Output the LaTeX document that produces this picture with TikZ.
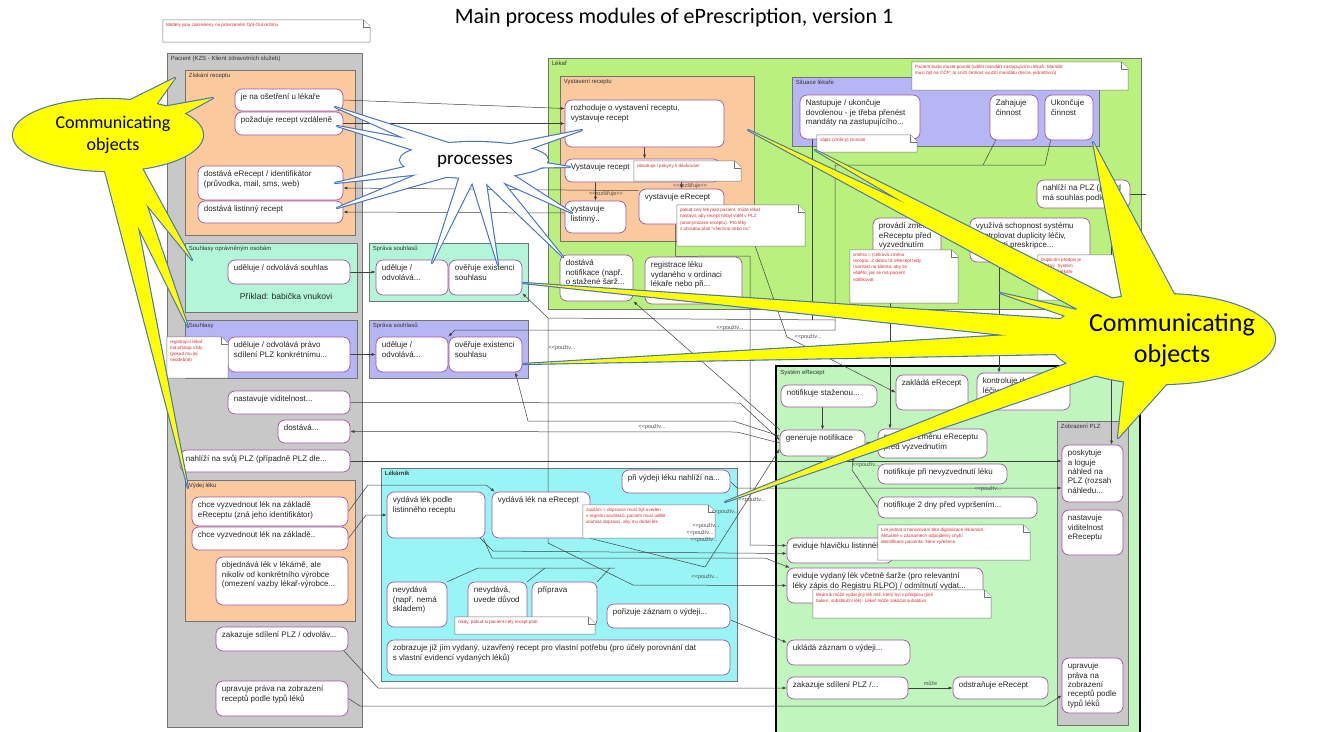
\documentclass[tikz,border=0pt]{standalone}
\usepackage{fontspec}
\setmainfont{Liberation Sans}
\newfontfamily\calfont{Carlito}
\usetikzlibrary{calc,arrows.meta}

\definecolor{pgray}{RGB}{200,200,200}
\definecolor{porange}{RGB}{250,201,157}
\definecolor{pmint}{RGB}{178,245,216}
\definecolor{ppurple}{RGB}{182,182,245}
\definecolor{plime}{RGB}{186,240,126}
\definecolor{pgreen}{RGB}{192,245,190}
\definecolor{pcyan}{RGB}{153,245,245}
\definecolor{bxline}{RGB}{160,85,160}
\definecolor{ntred}{RGB}{215,45,45}
\definecolor{callblue}{RGB}{68,114,196}
\definecolor{callyel}{RGB}{255,255,0}

\pgfdeclarelayer{panels}
\pgfdeclarelayer{lines}
\pgfsetlayers{panels,lines,main}

% panel: name, x1, y1, x2, y2, fill, label
\newcommand\panelnode[7]{%
  \begin{pgfonlayer}{panels}
  \node[panel,fill=#6,minimum width={(#4-#2)*1pt},minimum height={(#5-#3)*1pt}] (#1) at ({(#2+#4)/2},{(#3+#5)/2}) {};
  \node[ptxt,anchor=north west] at ([xshift=4pt,yshift=-3pt]#1.north west) {#7};
  \end{pgfonlayer}}
% rounded activity box: name, x1, y1, x2, y2, text
\newcommand\boxnode[6]{%
  \node[ubox,minimum width={(#4-#2)*1pt},minimum height={(#5-#3)*1pt}] (#1) at ({(#2+#4)/2},{(#3+#5)/2}) {};
  \node[btxt,anchor=north west] at ([xshift=6pt,yshift=-5pt]#1.north west) {#6};}
% note with folded corner: name, x1, y1, x2, y2, text
\newcommand\notenode[6]{%
  \node[inner sep=0pt,minimum width={(#4-#2)*1pt},minimum height={(#5-#3)*1pt}] (#1) at ({(#2+#4)/2},{(#3+#5)/2}) {};
  \filldraw[note] (#1.north west) -- ([xshift=-7pt]#1.north east) -- ([yshift=-7pt]#1.north east) -- (#1.south east) -- (#1.south west) -- cycle;
  \draw[note] ([xshift=-7pt]#1.north east) |- ([yshift=-7pt]#1.north east);
  \node[ntxt,anchor=north west] at ([xshift=3pt,yshift=-3pt]#1.north west) {#6};}

\begin{document}
\begin{tikzpicture}[x=1pt,y=-1pt,
  panel/.style={draw=black!55,line width=0.6pt,inner sep=0pt},
  ptxt/.style={font=\fontsize{6}{7}\selectfont,text=black!80,inner sep=0pt},
  ubox/.style={draw=bxline,fill=white,rounded corners=7pt,line width=0.7pt,inner sep=0pt},
  btxt/.style={font=\fontsize{8}{9.4}\selectfont,text=black!85,align=left,inner sep=0pt},
  note/.style={draw=black!55,fill=white,line width=0.5pt},
  ntxt/.style={font=\fontsize{4.6}{6.2}\selectfont,text=ntred,align=left,inner sep=0pt},
  conn/.style={draw=black!75,line width=0.5pt,-{Latex[length=4pt,width=3pt]}},
  cl/.style={draw=black!75,line width=0.5pt},
  lbl/.style={font=\fontsize{5.5}{6}\selectfont,text=black!70,inner sep=0.5pt},
  spk/.style={draw=callblue,line width=2.2pt,line join=round},
  ]
\useasboundingbox (0,0) rectangle (1322,731);
\begin{pgfonlayer}{panels}
\fill[white] (0,0) rectangle (1322,731);
\end{pgfonlayer}

\node[font=\calfont\fontsize{22}{26}\selectfont] (title) at (674,18) {Main process modules of ePrescription, version 1};

% ---------- swimlanes and groups ----------
\panelnode{pac}{167}{53}{362}{727}{pgray}{Pacient (KZS - Klient zdravotních služeb)}
\panelnode{zis}{185}{70}{355}{235}{porange}{Získání receptu}
\panelnode{sou1}{185}{243}{357}{312}{pmint}{Souhlasy oprávněným osobám}
\panelnode{sou2}{185}{320}{357}{378}{ppurple}{Souhlasy}
\panelnode{vyd}{185}{480}{355}{621}{porange}{Výdej léku}
\panelnode{ss1}{369}{243}{528}{301}{pmint}{Správa souhlasů}
\panelnode{ss2}{369}{320}{528}{378}{ppurple}{Správa souhlasů}
\panelnode{lek}{548}{58}{1141}{309}{plime}{Lékař}
\panelnode{vys}{560}{76}{754}{241}{porange}{Vystavení receptu}
\panelnode{sit}{792}{77}{1099}{146}{ppurple}{Situace lékaře}
\panelnode{lkn}{381}{468}{737}{681}{pcyan}{\bfseries Lékárník}
\begin{pgfonlayer}{panels}
\node[panel,draw=black,line width=1.6pt,fill=pgreen,minimum width=364pt,minimum height=380pt] (sys) at (958,556) {};
\node[ptxt,anchor=north west] at ([xshift=5pt,yshift=-5pt]sys.north west) {Systém eRecept};
\end{pgfonlayer}
\panelnode{zob}{1057}{421}{1128}{725}{pgray}{Zobrazení PLZ}

% ---------- activity boxes ----------
\boxnode{jenaos}{235}{89}{343}{111}{je na ošetření u lékaře}
\boxnode{pozad}{235}{112}{343}{135}{požaduje recept vzdáleně}
\boxnode{dosE}{198}{166}{343}{200}{dostává eRecept / identifikátor\\(průvodka, mail, sms, web)}
\boxnode{dosL}{198}{201}{343}{223}{dostává listinný recept}
\boxnode{uos}{228}{260}{350}{284}{uděluje / odvolává souhlas}
\node[font=\fontsize{8.5}{10}\selectfont,text=black!85] (prik) at (286,296) {Příklad: babička vnukovi};
\boxnode{uop}{228}{337}{350}{372}{uděluje / odvolává právo\\sdílení PLZ konkrétnímu...}
\boxnode{nv}{228}{391}{350}{414}{nastavuje viditelnost...}
\boxnode{dostava}{278}{420}{350}{443}{dostává...}
\boxnode{nps}{180}{450}{350}{472}{nahlíží na svůj PLZ (případně PLZ dle...}
\boxnode{cve}{192}{497}{348}{526}{chce vyzvednout lék na základě\\eReceptu (zná jeho identifikátor)}
\boxnode{cvz}{192}{527}{348}{550}{chce vyzvednout lék na základě..}
\boxnode{obj}{216}{557}{348}{605}{objednává lék v lékárně, ale\\nikoliv od konkrétního výrobce\\(omezení vazby lékař-výrobce...}
\boxnode{zk}{216}{627}{348}{651}{zakazuje sdílení PLZ / odvoláv...}
\boxnode{upr}{216}{681}{348}{716}{upravuje práva na zobrazení\\receptů podle typů léků}
\boxnode{s1u}{376}{260}{448}{295}{uděluje /\\odvolává...}
\boxnode{s1o}{449}{260}{522}{295}{ověřuje existenci\\souhlasu}
\boxnode{s2u}{376}{337}{448}{372}{uděluje /\\odvolává...}
\boxnode{s2o}{449}{337}{522}{372}{ověřuje existenci\\souhlasu}
\boxnode{rozh}{565}{100}{724}{147}{rozhoduje o vystavení receptu,\\vystavuje recept}
\boxnode{vr}{565}{159}{720}{182}{Vystavuje recept}
\boxnode{vl}{565}{201}{626}{233}{vystavuje\\listinný..}
\boxnode{ve}{639}{189}{724}{224}{vystavuje eRecept}
\boxnode{dn}{560}{255}{633}{301}{dostává\\notifikace (např.\\o stažené šarž...}
\boxnode{rl}{645}{257}{742}{304}{registrace léku\\vydaného v ordinaci\\lékaře nebo při...}
\boxnode{nast}{800}{95}{920}{139}{Nastupuje / ukončuje\\dovolenou - je třeba přenést\\mandáty na zastupujícího...}
\boxnode{zah}{990}{95}{1038}{140}{Zahajuje\\činnost}
\boxnode{uk}{1045}{95}{1093}{140}{Ukončuje\\činnost}
\boxnode{nplz}{1037}{180}{1130}{208}{nahlíží na PLZ (pokud\\má souhlas podle...}
\boxnode{pz}{873}{218}{941}{258}{provádí změnu\\eReceptu před\\vyzvednutím}
\boxnode{vy}{970}{218}{1090}{262}{využívá schopnost systému\\kontrolovat duplicity léčiv,\\možnosti preskripce...}
\boxnode{vll}{387}{492}{485}{538}{vydává lék podle\\listinného receptu}
\boxnode{vle}{492}{492}{590}{538}{vydává lék na eRecept}
\boxnode{pvn}{622}{470}{730}{493}{při výdeji léku nahlíží na...}
\boxnode{nev1}{387}{582}{447}{627}{nevydává\\(např. nemá\\skladem)}
\boxnode{nev2}{468}{582}{527}{627}{nevydává,\\uvede důvod}
\boxnode{prip}{532}{582}{597}{627}{příprava}
\boxnode{pzv}{607}{604}{730}{628}{pořizuje záznam o výdeji...}
\boxnode{zj}{387}{640}{730}{675}{zobrazuje již jím vydaný, uzavřený recept pro vlastní potřebu (pro účely porovnání dat\\s vlastní evidencí vydaných léků)}
\boxnode{ns}{781}{385}{877}{407}{notifikuje staženou...}
\boxnode{za}{896}{375}{968}{410}{zakládá eRecept}
\boxnode{kd}{977}{373}{1070}{410}{kontroluje duplicity\\léčiv...}
\boxnode{gn}{780}{430}{865}{456}{generuje notifikace}
\boxnode{nz}{878}{429}{987}{458}{notifikuje změnu eReceptu\\před vyzvednutím}
\boxnode{nnl}{878}{464}{1007}{484}{notifikuje při nevyzvednutí léku}
\boxnode{n2d}{878}{497}{1037}{518}{notifikuje 2 dny před vypršením...}
\boxnode{ehl}{787}{538}{893}{563}{eviduje hlavičku listinného...}
\boxnode{evl}{787}{568}{983}{603}{eviduje vydaný lék včetně šarže (pro relevantní\\léky zápis do Registru RLPO) / odmítnutí vydat...}
\boxnode{uz}{787}{640}{910}{665}{ukládá záznam o výdeji...}
\boxnode{zs}{787}{677}{908}{699}{zakazuje sdílení PLZ /...}
\boxnode{odst}{953}{677}{1048}{699}{odstraňuje eRecept}
\boxnode{posk}{1062}{445}{1123}{502}{poskytuje\\a loguje\\náhled na\\PLZ (rozsah\\náhledu...}
\boxnode{nve}{1062}{510}{1123}{555}{nastavuje\\viditelnost\\eReceptu}
\boxnode{zup}{1062}{658}{1123}{713}{upravuje\\práva na\\zobrazení\\receptů podle\\typů léků}

% ---------- connectors (kept under the boxes) ----------
\begin{pgfonlayer}{lines}
\draw[conn] (jenaos.east) -- ([yshift=15pt]rozh.west);
\draw[conn] (pozad.east) -- (pozad.east -| rozh.west);
\draw[conn] ([yshift=-2pt]ve.north west) -- ([yshift=-5pt]dosE.east);
\draw[conn] ([yshift=4pt]vl.west) -- (dosL.east);
\draw[conn] (rozh.south) -- (rozh.south |- vr.north);
\draw[conn] (vr.south -| vl.north) -- (vl.north);
\draw[conn] (vr.south -| ve.north) -- (ve.north);
\draw[conn] (uos.east) -- (uos.east -| s1u.west);
\draw[conn] (uop.east) -- (uop.east -| s2u.west);
\draw[conn] (nv.east) -- (740,403) -- ([yshift=3pt]gn.west);
\draw[conn] (gn.west) -- (737,432) -- (dostava.east);
\draw[conn] (nps.east) -- (nps.east -| posk.west);
\draw[conn] (cve.east) -- (368,485) -- (486,485) -- ([xshift=3pt]vle.north west);
\draw[conn] (cvz.east) -- (366,515) -- (vll.west);
\draw[conn] ([xshift=-4pt]zk.south east) -- (378,688) -- (zs.west);
\draw[conn] (upr.east) -- (360,706) -- (1045,706) -- ([yshift=-10pt]zup.west);
\draw[conn] (zs.east) -- node[lbl,above=2pt]{může} (odst.west);
\draw[conn] ([xshift=-17pt]pz.south) -- ([xshift=-17pt]pz.south |- nz.north);
\draw[conn] ([xshift=-31pt]vy.south) -- ([xshift=-31pt]vy.south |- kd.north);
\draw[conn] ([xshift=28pt]nplz.south) -- ([xshift=28pt]nplz.south |- posk.north);
\draw[cl] (nplz.east) -- ++(16,0);
\draw[cl] (812,139) -- (812,320);
\draw[conn] (ns.south -| gn.north) -- (gn.north);
\draw[conn] (nz.west) -- (gn.east);
\draw[conn] (n2d.west) -- (852,470) -- ([xshift=-12pt]gn.south east);
\draw[conn] (pvn.east) -- (737,488) -- ([yshift=-14.5pt]posk.west);
\draw[conn] ([xshift=-6pt]ve.south) -- ++(0,32) -- (750,256) -- (750,545) -- ([yshift=5pt]ehl.west);
\draw[conn] (ve.east) -- (753,240) -- (787,337) -- (za.west);
\draw[conn] (gn.north west) -- (dn.south east);
\draw[conn] ([yshift=7pt]gn.west) -- (733,421) -- (528,421) -- ([xshift=-7pt]s2o.south east);
\draw[conn] ([xshift=6pt]zah.south west) -- (983,165) -- (835,165) -- (835,330) -- (455,330) -- (s2u.north east);
\draw[cl] ([xshift=6pt]uk.south west) -- (1045,165) -- (983,165);
\coordinate (jn) at (548,318);
\draw[conn] (835,320) -- (jn) -- ([yshift=2pt]s1o.south east);
\draw[conn] (jn) -- (548,543) -- (633,585) -- (evl.west);
\draw[conn] ([xshift=-5pt]vll.south east) -- (493,551) -- ([yshift=-3pt]ehl.west);
\draw[conn] ([xshift=-2pt]vll.south east) -- (492,558) -- (765,558) -- ([xshift=3pt]evl.north west);
\draw[conn] (vle.south east) -- (705,567) -- ([yshift=-6pt]gn.west);
\draw[conn] ([yshift=-4pt]pzv.east) -- ([yshift=10pt]uz.west);
\draw[cl] (nev1.north east) -- (478,568) -- (615,568);
\draw[cl] (nev2.north east) -- (545,568);
\draw[cl] (prip.north east) -- (610,568);
\end{pgfonlayer}

% ---------- notes ----------
\notenode{n0}{163}{20}{370}{42}{Modely jsou zakresleny na potvrzeném Opt-Out režimu}
\notenode{nSou}{167}{337}{228}{378}{registrující lékař\\má přístup vždy\\(pokud mu jej\\neodebral)}
\notenode{nVr}{634}{161}{741}{181}{obsahuje i pokyny k dávkování}
\notenode{nVe}{677}{205}{805}{246}{pokud celý lék platí pacient, může lékař\\nastavit, aby recept nebyl vidět v PLZ\\(anonymizace receptu). Pro léky\\s úhradou platí "všechno nebo nic"}
\notenode{nSit}{817}{135}{917}{152}{zápis (změny) činnosti}
\notenode{nTop}{912}{62}{1128}{90}{Pacient bude muset povolit (udělit mandát) zastupujícímu lékaři. Mandát\\musí být na OČP; to sníží četnost využití mandátu (tisíce, jednotlivců)}
\notenode{nPz}{850}{250}{958}{303}{změna = (celková změna\\receptu. Z dobro IS eRecept tedy\\i kontakt na klienta, aby se\\vědělo, jak se má pacient\\notifikovat}
\notenode{nVy}{1038}{255}{1125}{300}{Duplicitní předpis je\\možný. Systém\\upozorní lékaře}
\notenode{nVle}{583}{505}{715}{538}{zasílání = dopravce musí být uveden\\v registru souhlasů, pacient musí udělit\\souhlas dopravci, aby mu dodal lék}
\notenode{nNev}{455}{617}{595}{634}{nikdy, pokud si pacient celý recept platí}
\notenode{nEhl}{878}{525}{1030}{560}{Lze jednat o honorování této digitalizace lékárnám.\\Aktuálně v záznamech odpojitelný chybí\\identifikace pacienta. Není vyřešeno.}
\notenode{nEvl}{813}{590}{991}{618}{lékárník může vydat jiný lék než, který byl v předpisu (jiné\\balení, substituční lék). Lékař může zakázat substituci}

% ---------- stereotype labels ----------
\node[lbl] at (606,194) {<{}<rozšiřuje>{}>};
\node[lbl] at (690,186) {<{}<rozšiřuje>{}>};
\node[lbl] at (652,427) {<{}<použív...};
\node[lbl] at (562,348) {<{}<použív...};
\node[lbl] at (730,328) {<{}<použív...};
\node[lbl] at (808,337) {<{}<použív...};
\node[lbl] at (840,459) {<{}<použív...};
\node[lbl] at (866,465) {<{}<použív...};
\node[lbl] at (988,489) {<{}<použív...};
\node[lbl] at (752,500) {<{}<použív...};
\node[lbl] at (725,512) {<{}<použív...};
\node[lbl] at (706,526) {<{}<použív...};
\node[lbl] at (700,533) {<{}<použív...};
\node[lbl] at (704,540) {<{}<použív...};
\node[lbl] at (705,577) {<{}<použív...};

% ---------- callout: processes ----------
\coordinate (cP) at (474,160);
\foreach \tx/\ty in {335/107,337/126,335/183,337/208,582/130,570/167,572/213,432/263,498/265,563/257}{
  \draw[spk] ($(cP)!8.5pt!90:(\tx,\ty)$) -- (\tx,\ty) -- ($(cP)!8.5pt!-90:(\tx,\ty)$) -- cycle;}
\draw[spk] (cP) ellipse [x radius=74pt,y radius=18pt];
\foreach \tx/\ty in {335/107,337/126,335/183,337/208,582/130,570/167,572/213,432/263,498/265,563/257}{
  \fill[white] ($(cP)!8.5pt!90:(\tx,\ty)$) -- (\tx,\ty) -- ($(cP)!8.5pt!-90:(\tx,\ty)$) -- cycle;}
\fill[white] (cP) ellipse [x radius=74pt,y radius=18pt];
\node[font=\calfont\fontsize{19}{22}\selectfont] (proc) at (475,161) {processes};

% ---------- callout: communicating objects (left) ----------
\coordinate (cL) at (108,135);
\foreach \tx/\ty/\hw in {175/78/22pt,213/98/18pt,192/260/14pt,188/327/14pt,188/488/12pt}{
  \draw[spk] ($(cL)!\hw!90:(\tx,\ty)$) -- (\tx,\ty) -- ($(cL)!\hw!-90:(\tx,\ty)$) -- cycle;}
\draw[spk] (cL) ellipse [x radius=95pt,y radius=36pt];
\foreach \tx/\ty/\hw in {175/78/22pt,213/98/18pt,192/260/14pt,188/327/14pt,188/488/12pt}{
  \fill[callyel] ($(cL)!\hw!90:(\tx,\ty)$) -- (\tx,\ty) -- ($(cL)!\hw!-90:(\tx,\ty)$) -- cycle;}
\fill[callyel] (cL) ellipse [x radius=95pt,y radius=36pt];
\node[font=\calfont\fontsize{18}{22}\selectfont,align=center] (coL) at (113,135) {Communicating\\objects};

% ---------- callout: communicating objects (right) ----------
\coordinate (cR) at (1162,339);
\foreach \tx/\ty/\hw in {748/130/14pt,815/150/14pt,1093/142/32pt,1000/293/10pt,523/283/13pt,523/364/13pt,725/502/13pt,1045/392/12pt,1118/438/35pt}{
  \draw[spk] ($(cR)!\hw!90:(\tx,\ty)$) -- (\tx,\ty) -- ($(cR)!\hw!-90:(\tx,\ty)$) -- cycle;}
\draw[spk] (cR) ellipse [x radius=113pt,y radius=45pt];
\foreach \tx/\ty/\hw in {748/130/14pt,815/150/14pt,1093/142/32pt,1000/293/10pt,523/283/13pt,523/364/13pt,725/502/13pt,1045/392/12pt,1118/438/35pt}{
  \fill[callyel] ($(cR)!\hw!90:(\tx,\ty)$) -- (\tx,\ty) -- ($(cR)!\hw!-90:(\tx,\ty)$) -- cycle;}
\fill[callyel] (cR) ellipse [x radius=113pt,y radius=45pt];
\node[font=\calfont\fontsize{26}{31}\selectfont,align=center] (coR) at (1172,340) {Communicating\\objects};
\end{tikzpicture}
\end{document}
